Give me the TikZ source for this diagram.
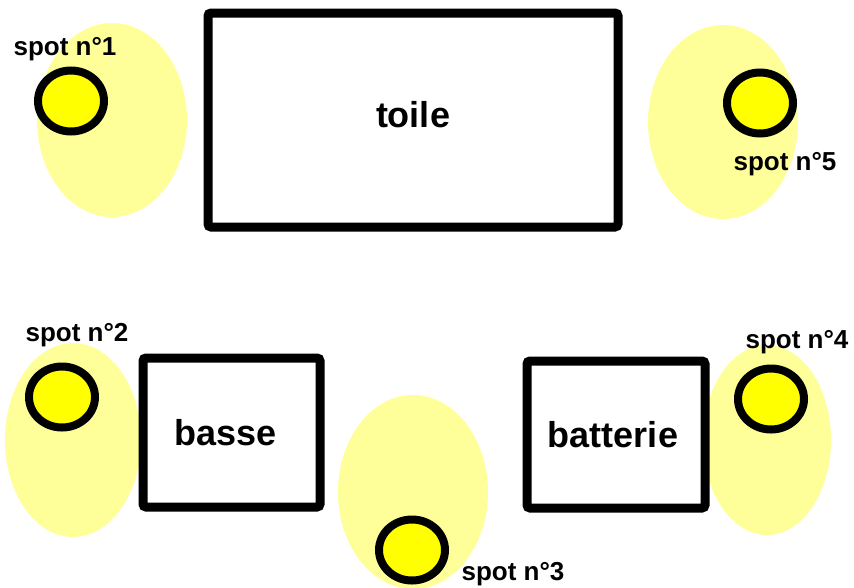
\documentclass[tikz,border=0pt]{standalone}
\usepackage{fontspec}
\setmainfont{Liberation Sans}
\usetikzlibrary{shapes.geometric}
\definecolor{halo}{HTML}{FFFF99}
\definecolor{bulb}{HTML}{FFFF00}
\tikzset{
  glow/.style={ellipse, fill=halo, inner sep=0pt, minimum width=150pt, minimum height=194pt},
  lamp/.style={ellipse, draw, line width=8pt, fill=bulb, inner sep=0pt, minimum width=66pt, minimum height=61pt},
  stage/.style={draw, line width=9pt, fill=white, rounded corners=3pt, inner sep=0pt, font=\fontsize{36}{36}\selectfont\bfseries},
  tag/.style={anchor=base, inner sep=0pt, font=\fontsize{26}{26}\selectfont\bfseries}
}
\begin{document}
\begin{tikzpicture}[x=1pt, y=-1pt]
\useasboundingbox (0,0) rectangle (854,587);
% halos
\node[glow] (halo1) at (112,120) {};
\node[glow] (halo5) at (723,122) {};
\node[glow, minimum width=136pt] (halo2) at (73,440) {};
\node[glow, minimum width=128pt, minimum height=190pt] (halo4) at (767,440) {};
\node[glow] (halo3) at (413,492) {};
% screen and instruments
\node[stage, minimum width=410pt, minimum height=214pt, text depth=12pt] (toile) at (413,120) {toile};
\node[stage, minimum width=177pt, minimum height=149pt] (basse) at (231.5,432.5) {basse\kern12pt};
\node[stage, minimum width=178pt, minimum height=147pt] (batterie) at (616,434.5) {batterie\kern6pt};
% lamps
\node[lamp] (lamp1) at (71,101) {};
\node[lamp] (lamp2) at (62,397) {};
\node[lamp] (lamp3) at (412,550) {};
\node[lamp] (lamp4) at (771,399) {};
\node[lamp] (lamp5) at (760,103) {};
% labels
\node[tag] (tag1) at (65,55) {spot n°1};
\node[tag] (tag2) at (77,341) {spot n°2};
\node[tag] (tag3) at (513,580) {spot n°3};
\node[tag] (tag4) at (797,348) {spot n°4};
\node[tag] (tag5) at (785,170) {spot n°5};
\end{tikzpicture}
\end{document}
